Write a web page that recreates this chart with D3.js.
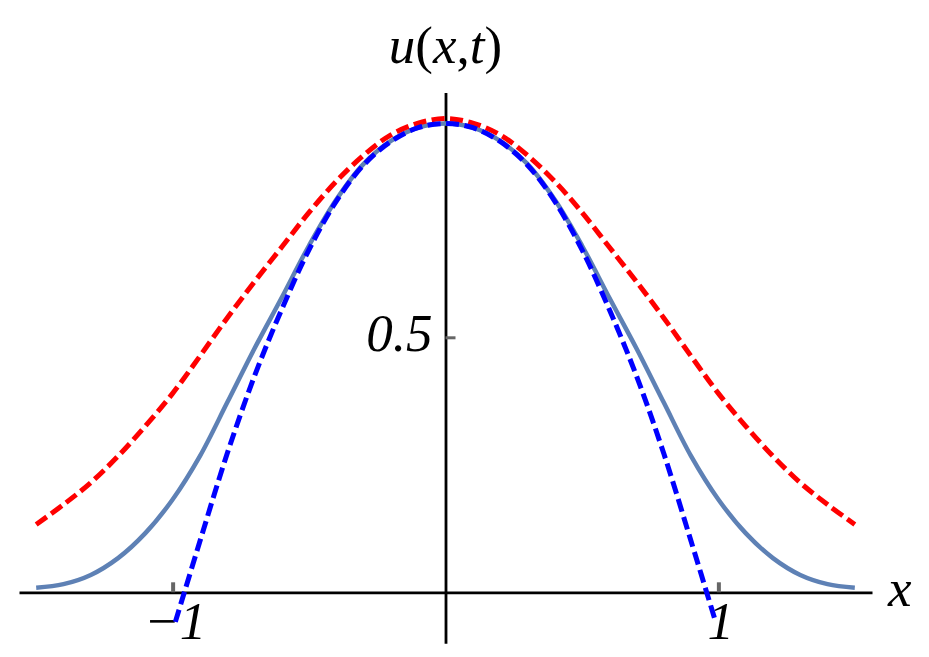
<!DOCTYPE html>
<html>
<head>
<meta charset="utf-8">
<script src="https://cdn.jsdelivr.net/npm/d3@7"></script>
<style>
  html, body { margin: 0; padding: 0; background: #fff; }
  svg { display: block; }
</style>
</head>
<body>
<svg id="chart" width="929" height="657"></svg>
<script>
// ---------- data ----------
const xDomain = [-1.563, 1.563];
const yDomain = [-0.1, 0.98];

const xTickValues = [-1, 1];
const xTickLabels = ["\u22121", "1"];
const yTickValues = [0.5];
const yTickLabels = ["0.5"];

// solid curve (steel blue)
const solidX = [-1.5,-1.4,-1.3,-1.2,-1.1,-1.0,-0.9,-0.8,-0.7,-0.6,-0.5,-0.4,-0.3,-0.2,-0.1,0,
                 0.1,0.2,0.3,0.4,0.5,0.6,0.7,0.8,0.9,1.0,1.1,1.2,1.3,1.4,1.5];
const solidU = [0.009,0.016,0.034,0.067,0.116,0.182,0.267,0.372,0.478,0.578,0.680,0.770,0.840,0.885,0.911,0.919,
                0.911,0.885,0.840,0.770,0.680,0.578,0.478,0.372,0.267,0.182,0.116,0.067,0.034,0.016,0.009];

// red dashed curve
const redX = solidX;
const redU = [0.133,0.172,0.215,0.267,0.326,0.390,0.463,0.538,0.609,0.677,0.745,0.806,0.857,0.897,0.920,0.929,
              0.920,0.897,0.857,0.806,0.745,0.677,0.609,0.538,0.463,0.390,0.326,0.267,0.215,0.172,0.133];

// blue dashed curve
const blueX = [-0.99,-0.9,-0.8,-0.7,-0.6,-0.5,-0.4,-0.3,-0.2,-0.1,0,0.1,0.2,0.3,0.4,0.5,0.6,0.7,0.8,0.9,0.99];
const blueU = [-0.058,0.100,0.272,0.424,0.555,0.672,0.767,0.838,0.884,0.911,0.919,
               0.911,0.884,0.838,0.767,0.672,0.555,0.424,0.272,0.100,-0.058];

// ---------- drawing ----------
const FONT = "'Liberation Serif', 'Times New Roman', Tinos, serif";
const svg = d3.select("#chart");
const x = d3.scaleLinear().domain(xDomain).range([19, 872]);
const y = d3.scaleLinear().domain(yDomain).range([643.3, 92.5]);

const line = d3.line().x(d => x(d[0])).y(d => y(d[1])).curve(d3.curveCatmullRom.alpha(0.5));
const zip = (a, b) => a.map((v, i) => [v, b[i]]);

// axes
const xAxis = d3.axisBottom(x).tickValues(xTickValues)
  .tickFormat((d, i) => xTickLabels[i]).tickSizeInner(-10).tickSizeOuter(0);
const gx = svg.append("g").attr("transform", `translate(0,${y(0)})`).call(xAxis);
gx.select(".domain").attr("stroke", "#000").attr("stroke-width", 2.8);
gx.selectAll(".tick line").attr("stroke", "#666").attr("stroke-width", 4);
gx.selectAll(".tick text").attr("y", 47).attr("dy", 0).attr("dx", 2)
  .attr("fill", "#000")
  .style("font-size", "53px").style("font-style", "italic").style("font-family", FONT);

const yAxis = d3.axisLeft(y).tickValues(yTickValues)
  .tickFormat((d, i) => yTickLabels[i]).tickSizeInner(-10).tickSizeOuter(0);
const gy = svg.append("g").attr("transform", `translate(${x(0)},0)`).call(yAxis);
gy.select(".domain").attr("stroke", "#000").attr("stroke-width", 2.8);
gy.selectAll(".tick line").attr("stroke", "#666").attr("stroke-width", 3);
gy.selectAll(".tick text").attr("x", -13).attr("dy", 0).attr("y", 13)
  .attr("fill", "#000")
  .style("font-size", "53px").style("font-style", "italic").style("font-family", FONT);

// curves
svg.append("path").datum(zip(solidX, solidU)).attr("d", line)
  .attr("fill", "none").attr("stroke", "#5E81B5").attr("stroke-width", 4.5);
svg.append("path").datum(zip(redX, redU)).attr("d", line)
  .attr("fill", "none").attr("stroke", "#FF0000").attr("stroke-width", 5)
  .attr("stroke-dasharray", "13,5.5");
svg.append("path").datum(zip(blueX, blueU)).attr("d", line)
  .attr("fill", "none").attr("stroke", "#0000FF").attr("stroke-width", 5)
  .attr("stroke-dasharray", "13,5.5");

// axis labels
svg.append("text").attr("x", 888).attr("y", 606)
  .style("font-size", "53px").style("font-family", FONT)
  .style("font-style", "italic").text("x");
const ul = svg.append("text").attr("x", x(0)).attr("y", 63)
  .style("font-size", "53px").style("font-family", FONT)
  .attr("text-anchor", "middle");
ul.append("tspan").style("font-style", "italic").text("u");
ul.append("tspan").text("(");
ul.append("tspan").style("font-style", "italic").text("x");
ul.append("tspan").text(",");
ul.append("tspan").style("font-style", "italic").text("t");
ul.append("tspan").text(")");
</script>
</body>
</html>
